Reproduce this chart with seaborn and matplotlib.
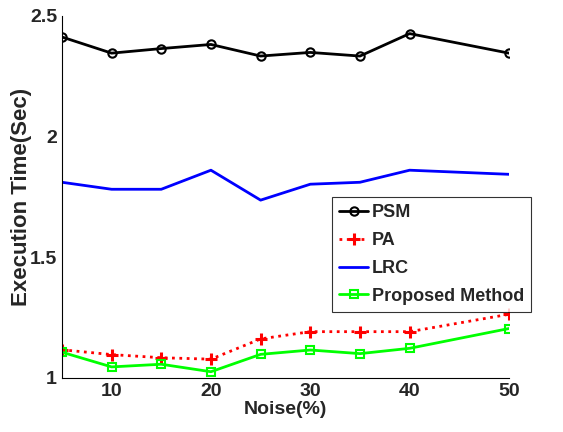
import numpy as np
import pandas as pd
import matplotlib
matplotlib.use("Agg")
import matplotlib.pyplot as plt
import seaborn as sns

noise = [5, 10, 15, 20, 25, 30, 35, 40, 50]
psm = [2.413, 2.346, 2.365, 2.382, 2.334, 2.349, 2.334, 2.427, 2.346]
pa = [1.117, 1.097, 1.084, 1.078, 1.162, 1.192, 1.192, 1.192, 1.264]
lrc = [1.811, 1.782, 1.782, 1.861, 1.737, 1.803, 1.811, 1.861, 1.844]
proposed = [1.107, 1.046, 1.057, 1.026, 1.098, 1.116, 1.101, 1.123, 1.205]

sns.set_style("white")
plt.rcParams['font.family'] = ['Liberation Sans', 'DejaVu Sans']
plt.rcParams['font.weight'] = 'bold'

fig = plt.figure(figsize=(5.63, 4.32), dpi=100)
ax = fig.add_axes([0.110, 0.125, 0.794, 0.838])

styles = [
    ("PSM", psm, dict(color="black", marker="o", linestyle="-", mfc="none", mec="black", ms=6, mew=1.5)),
    ("PA", pa, dict(color="red", marker="+", linestyle=":", mec="red", ms=8, mew=2.2)),
    ("LRC", lrc, dict(color="blue", linestyle="-")),
    ("Proposed Method", proposed, dict(color="#00ff00", marker="s", linestyle="-", mfc="none", mec="#00ff00", ms=6, mew=1.5)),
]
for name, vals, kw in styles:
    sns.lineplot(x=noise, y=vals, ax=ax, label=name, lw=2, **kw)

ax.set_xlim(5, 50)
ax.set_ylim(1, 2.5)
ax.set_xticks([10, 20, 30, 40, 50])
ax.set_yticks([1, 1.5, 2, 2.5])
ax.set_yticklabels(["1", "1.5", "2", "2.5"])
ax.tick_params(direction="in", length=4, labelsize=14, width=0.8)
for lab in ax.get_xticklabels() + ax.get_yticklabels():
    lab.set_fontweight("bold")
ax.set_xlabel("Noise(%)", fontsize=14, fontweight="bold", labelpad=1)
ax.set_ylabel("Execution Time(Sec)", fontsize=16, fontweight="bold")
ax.yaxis.set_label_coords(-0.067, 0.5)
for s in ["top", "right"]:
    ax.spines[s].set_visible(False)
for s in ["left", "bottom"]:
    ax.spines[s].set_color("black")
    ax.spines[s].set_linewidth(0.8)

leg = ax.legend(loc="upper left", bbox_to_anchor=(0.604, 0.5), fontsize=13,
                frameon=True, fancybox=False, edgecolor="black", handlelength=1.6,
                handletextpad=0.2, borderpad=0.4, labelspacing=0.6, borderaxespad=0)
leg.get_frame().set_linewidth(0.8)
for t in leg.get_texts():
    t.set_fontweight("bold")

fig.savefig("out.png", dpi=100)
